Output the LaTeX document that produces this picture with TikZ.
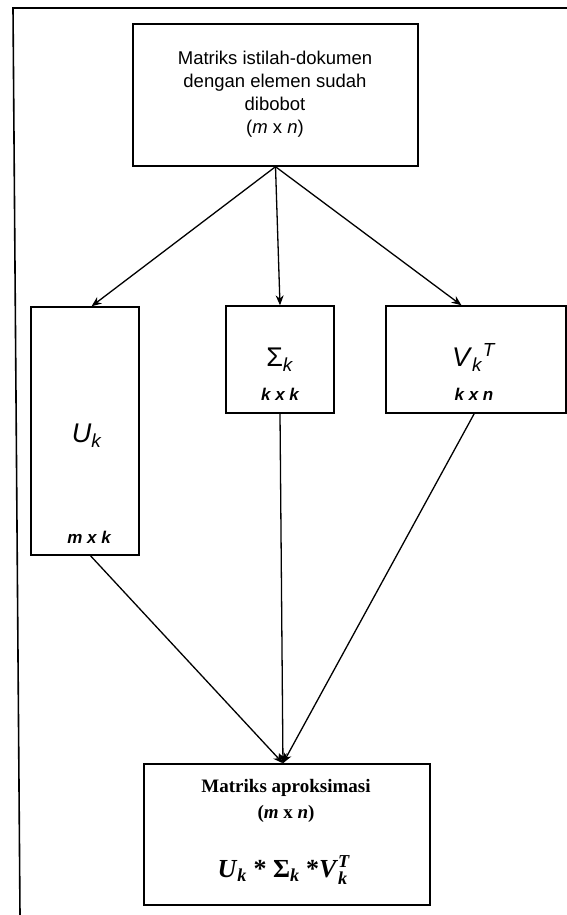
\documentclass[tikz,border=0pt]{standalone}
\usepackage{amsmath}
\usepackage{fontspec}
\setmainfont{Liberation Sans}
\newfontfamily\tnrfont{Liberation Serif}
\usetikzlibrary{arrows.meta,calc}
\begin{document}
\begin{tikzpicture}[x=1pt,y=-1pt,
  box/.style={draw,line width=1.4pt,inner sep=0pt},
  conn/.style={line width=1.3pt},
  arr/.style={conn,-{Stealth[length=10pt,width=8pt]}},
  txt/.style={anchor=base,inner sep=0pt,align=center},
  toptext/.style={txt,font=\fontsize{18.5}{23.5}\selectfont},
  dimtext/.style={txt,font=\fontsize{17}{20}\selectfont\bfseries\itshape},
  bigsym/.style={txt,font=\fontsize{27}{30}\selectfont},
  bottext/.style={txt,font=\tnrfont\fontsize{19}{26}\selectfont\bfseries}]
\useasboundingbox (0,0) rectangle (567,915);
% outer frame
\coordinate (fa) at (567,8);
\coordinate (fb) at (13,8);
\coordinate (fc) at (20,915);
\draw[conn,line width=1.6pt] (fa) -- (fb) -- (fc);
% boxes
\node[box,minimum width=285pt,minimum height=142pt] (top) at (275.5,95) {};
\node[box,minimum width=108pt,minimum height=248pt] (ubox) at (85,431) {};
\node[box,minimum width=108pt,minimum height=107pt] (sbox) at (280,359.5) {};
\node[box,minimum width=180pt,minimum height=107pt] (vbox) at (476,359.5) {};
\node[box,minimum width=286pt,minimum height=141pt] (bot) at (287,834.5) {};
% texts
\node[toptext] (t1) at (275,65) {Matriks istilah-dokumen};
\node[toptext] (t2) at (275,88) {dengan elemen sudah};
\node[toptext] (t3) at (275,111) {dibobot};
\node[toptext] (t4) at (275,134) {(\textit{m} x \textit{n})};
\node[bigsym] (ul) at (87,442) {\textit{U}\textsubscript{\textit{k}}};
\node[dimtext] (ud) at (89,543) {m x k};
\node[bigsym] (sl) at (280,366) {Σ\textsubscript{\textit{k}}};
\node[dimtext] (sd) at (280,400) {k x k};
\node[bigsym] (vl) at (474,366) {\textit{V}\textsubscript{\textit{k}}\textsuperscript{\textit{T}}};
\node[dimtext] (vd) at (474,400) {k x n};
\node[bottext] (b1) at (286,792) {Matriks aproksimasi};
\node[bottext] (b2) at (286,818) {(\textit{m} x \textit{n})};
\node[txt,font=\tnrfont\fontsize{26}{30}\selectfont\bfseries] (bf) at (284,877)
  {\textit{U}\textsubscript{\textit{k}} * Σ\textsubscript{\textit{k}} *\textit{V}$^{\text{\textit{T}}}_{\text{\textit{k}}}$};
% connectors
\draw[arr] (top.south) -- ($(ubox.north west)!0.56!(ubox.north east)$);
\draw[arr] (top.south) -- (sbox.north);
\draw[arr] (top.south) -- ($(vbox.north west)!0.42!(vbox.north east)$);
\coordinate (meet) at ($(bot.north west)!0.486!(bot.north east)$);
\draw[arr] ($(ubox.south west)!0.55!(ubox.south east)$) -- (meet);
\draw[arr] (sbox.south) -- (meet);
\draw[arr] ($(vbox.south west)!0.49!(vbox.south east)$) -- (meet);
\end{tikzpicture}
\end{document}
